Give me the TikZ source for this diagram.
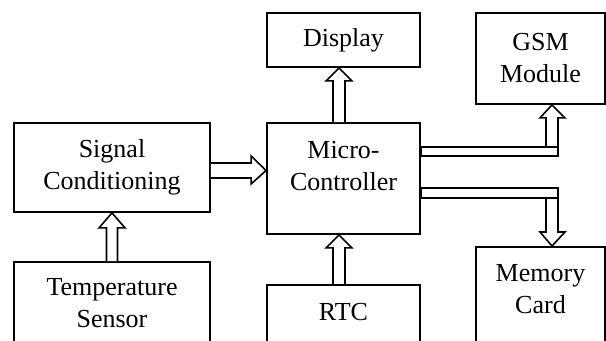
\documentclass[tikz,border=0pt]{standalone}
\usepackage{fontspec}
\setmainfont{Liberation Serif}
\usetikzlibrary{calc}

\tikzset{
  blk/.style={draw, line width=0.9pt, align=center, inner sep=0pt, font=\fontsize{13pt}{16pt}\selectfont},
  hollow/.style={draw, line width=0.8pt, fill=white, line join=miter},
}

\begin{document}
\begin{tikzpicture}[x=0.5pt,y=-0.5pt]
                    \useasboundingbox (0,0) rectangle (606,341);

                    % Blocks
                    \node[blk, minimum width=98pt, minimum height=44.5pt] (sig) at (112,167.5) {Signal\\Conditioning};
                    \node[blk, minimum width=98pt, minimum height=41.5pt] (temp) at (112,303.5) {Temperature\\Sensor};
                    \node[blk, minimum width=76.5pt, minimum height=27pt] (disp) at (343.5,40) {Display};
                    \node[blk, minimum width=76.5pt, minimum height=55.5pt, text depth=13.1pt] (micro) at (343.5,178.5) {Micro-\\Controller};
                    \node[blk, minimum width=76.5pt, minimum height=35pt, text depth=7.6pt, anchor=north] (rtc) at (343.5,284) {RTC};
                    \node[blk, minimum width=64.5pt, minimum height=45.5pt] (gsm) at (540.5,58.5) {GSM\\Module};
                    \node[blk, minimum width=64.5pt, minimum height=57pt, text depth=15.1pt, anchor=north] (mem) at (540.5,246) {Memory\\Card};

                    \coordinate (sm) at (micro.west |- sig.east);
                    \coordinate (gb) at (gsm.south |- micro.east);

                    % Sensor to conditioning
                    \draw[hollow] ($(temp.north)+(-5.5,0)$) -- ($(sig.south)+(-5.5,15)$) -- ($(sig.south)+(-13,15)$) -- (sig.south) -- ($(sig.south)+(13,15)$) -- ($(sig.south)+(5.5,15)$) -- ($(temp.north)+(5.5,0)$);

                    % Conditioning to controller
                    \draw[hollow] ($(sig.east)+(0,-4.5)$) -- ($(sm)+(-15,-4.5)$) -- ($(sm)+(-15,-11.5)$) -- ($(sm)+(0,3)$) -- ($(sm)+(-15,16.5)$) -- ($(sm)+(-15,10.5)$) -- ($(sig.east)+(0,10.5)$);

                    % Controller to display, RTC to controller
                    \draw[hollow] ($(micro.north)+(-10.5,0)$) -- ($(disp.south)+(-10.5,13)$) -- ($(disp.south)+(-17.5,13)$) -- ($(disp.south)+(-4.5,0)$) -- ($(disp.south)+(8.5,13)$) -- ($(disp.south)+(1.5,13)$) -- ($(micro.north)+(1.5,0)$);
                    \draw[hollow] ($(rtc.north)+(-10.5,0)$) -- ($(micro.south)+(-10.5,13)$) -- ($(micro.south)+(-17.5,13)$) -- ($(micro.south)+(-4.5,0)$) -- ($(micro.south)+(8.5,13)$) -- ($(micro.south)+(1.5,13)$) -- ($(rtc.north)+(1.5,0)$);

                    % Controller to GSM
                    \draw[hollow] ($(gb)+(5.5,-27)$) -- ($(gsm.south)+(5.5,13)$) -- ($(gsm.south)+(-0.5,13)$) -- ($(gsm.south)+(11.5,0)$) -- ($(gsm.south)+(24.5,13)$) -- ($(gsm.south)+(17.5,13)$) -- ($(gb)+(17.5,-27)$) -- cycle;
                    \draw[hollow] ($(micro.east)+(0,-31.5)$) rectangle ($(gb)+(17.5,-22.5)$);

                    % Controller to memory card
                    \draw[hollow] ($(gb)+(5.5,14.5)$) -- ($(mem.north)+(5.5,-14)$) -- ($(mem.north)+(-0.5,-14)$) -- ($(mem.north)+(11.5,0)$) -- ($(mem.north)+(24.5,-14)$) -- ($(mem.north)+(17.5,-14)$) -- ($(gb)+(17.5,14.5)$) -- cycle;
                    \draw[hollow] ($(micro.east)+(0,9.5)$) rectangle ($(gb)+(17.5,19.5)$);

                \end{tikzpicture}
\end{document}
